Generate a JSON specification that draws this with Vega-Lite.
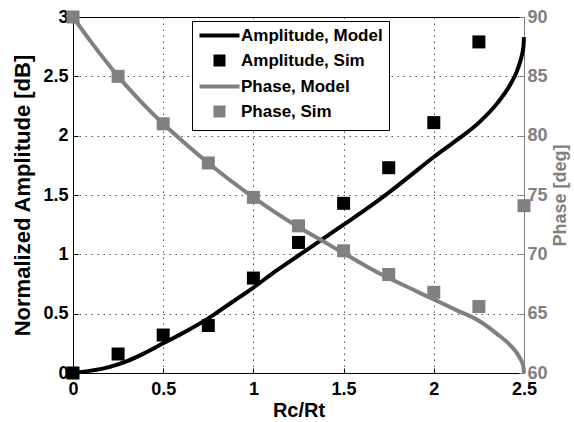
{
  "$schema": "https://vega.github.io/schema/vega-lite/v6.json",
  "width": 451,
  "height": 356,
  "autosize": "none",
  "padding": {"left": 73, "top": 17, "right": 50, "bottom": 49},
  "background": "white",
  "config": {
    "view": {"stroke": null},
    "font": "Liberation Sans",
    "axis": {
      "labelFont": "Liberation Sans",
      "labelFontWeight": "bold",
      "labelFontSize": 18,
      "titleFont": "Liberation Sans",
      "titleFontWeight": "bold",
      "labelFlush": false,
      "labelOverlap": false,
      "gridDash": [1.5, 4.5],
      "gridColor": "#555555",
      "gridWidth": 1,
      "gridOpacity": 1,
      "tickSize": -5,
      "domainWidth": 1
    },
    "legend": {
      "orient": "none",
      "legendX": 119,
      "legendY": 4,
      "padding": 6,
      "strokeColor": "black",
      "fillColor": "white",
      "labelFont": "Liberation Sans",
      "labelFontWeight": "bold",
      "labelFontSize": 17,
      "labelColor": "black",
      "symbolSize": 64,
      "symbolStrokeWidth": 4,
      "symbolOffset": 13,
      "labelOffset": 13,
      "rowPadding": 4,
      "cornerRadius": 0,
      "strokeWidth": 1
    }
  },
  "datasets": {
    "ampModel": [
      {"x": 0, "y": 0, "series": "Amplitude, Model"},
      {"x": 0.1, "y": 0.02, "series": "Amplitude, Model"},
      {"x": 0.2, "y": 0.05, "series": "Amplitude, Model"},
      {"x": 0.3, "y": 0.1, "series": "Amplitude, Model"},
      {"x": 0.4, "y": 0.17, "series": "Amplitude, Model"},
      {"x": 0.5, "y": 0.25, "series": "Amplitude, Model"},
      {"x": 0.625, "y": 0.35, "series": "Amplitude, Model"},
      {"x": 0.75, "y": 0.46, "series": "Amplitude, Model"},
      {"x": 0.875, "y": 0.59, "series": "Amplitude, Model"},
      {"x": 1.0, "y": 0.72, "series": "Amplitude, Model"},
      {"x": 1.125, "y": 0.86, "series": "Amplitude, Model"},
      {"x": 1.25, "y": 0.99, "series": "Amplitude, Model"},
      {"x": 1.375, "y": 1.12, "series": "Amplitude, Model"},
      {"x": 1.5, "y": 1.25, "series": "Amplitude, Model"},
      {"x": 1.625, "y": 1.38, "series": "Amplitude, Model"},
      {"x": 1.75, "y": 1.52, "series": "Amplitude, Model"},
      {"x": 1.875, "y": 1.67, "series": "Amplitude, Model"},
      {"x": 2.0, "y": 1.82, "series": "Amplitude, Model"},
      {"x": 2.125, "y": 1.96, "series": "Amplitude, Model"},
      {"x": 2.25, "y": 2.11, "series": "Amplitude, Model"},
      {"x": 2.35, "y": 2.27, "series": "Amplitude, Model"},
      {"x": 2.42, "y": 2.42, "series": "Amplitude, Model"},
      {"x": 2.46, "y": 2.54, "series": "Amplitude, Model"},
      {"x": 2.48, "y": 2.63, "series": "Amplitude, Model"},
      {"x": 2.49, "y": 2.69, "series": "Amplitude, Model"},
      {"x": 2.497, "y": 2.75, "series": "Amplitude, Model"},
      {"x": 2.5, "y": 2.83, "series": "Amplitude, Model"}
    ],
    "ampSim": [
      {"x": 0, "y": 0, "series": "Amplitude, Sim"},
      {"x": 0.25, "y": 0.16, "series": "Amplitude, Sim"},
      {"x": 0.5, "y": 0.32, "series": "Amplitude, Sim"},
      {"x": 0.75, "y": 0.4, "series": "Amplitude, Sim"},
      {"x": 1.0, "y": 0.8, "series": "Amplitude, Sim"},
      {"x": 1.25, "y": 1.1, "series": "Amplitude, Sim"},
      {"x": 1.5, "y": 1.43, "series": "Amplitude, Sim"},
      {"x": 1.75, "y": 1.73, "series": "Amplitude, Sim"},
      {"x": 2.0, "y": 2.11, "series": "Amplitude, Sim"},
      {"x": 2.25, "y": 2.79, "series": "Amplitude, Sim"}
    ],
    "phModel": [
      {"x": 0, "y": 90, "series": "Phase, Model"},
      {"x": 0.1, "y": 87.9, "series": "Phase, Model"},
      {"x": 0.25, "y": 85.0, "series": "Phase, Model"},
      {"x": 0.375, "y": 82.9, "series": "Phase, Model"},
      {"x": 0.5, "y": 81.0, "series": "Phase, Model"},
      {"x": 0.625, "y": 79.3, "series": "Phase, Model"},
      {"x": 0.75, "y": 77.7, "series": "Phase, Model"},
      {"x": 0.875, "y": 76.2, "series": "Phase, Model"},
      {"x": 1.0, "y": 74.8, "series": "Phase, Model"},
      {"x": 1.125, "y": 73.5, "series": "Phase, Model"},
      {"x": 1.25, "y": 72.3, "series": "Phase, Model"},
      {"x": 1.375, "y": 71.2, "series": "Phase, Model"},
      {"x": 1.5, "y": 70.1, "series": "Phase, Model"},
      {"x": 1.625, "y": 69.0, "series": "Phase, Model"},
      {"x": 1.75, "y": 68.0, "series": "Phase, Model"},
      {"x": 1.875, "y": 67.1, "series": "Phase, Model"},
      {"x": 2.0, "y": 66.2, "series": "Phase, Model"},
      {"x": 2.125, "y": 65.3, "series": "Phase, Model"},
      {"x": 2.25, "y": 64.4, "series": "Phase, Model"},
      {"x": 2.35, "y": 63.3, "series": "Phase, Model"},
      {"x": 2.42, "y": 62.4, "series": "Phase, Model"},
      {"x": 2.46, "y": 61.7, "series": "Phase, Model"},
      {"x": 2.48, "y": 61.2, "series": "Phase, Model"},
      {"x": 2.49, "y": 60.88, "series": "Phase, Model"},
      {"x": 2.497, "y": 60.48, "series": "Phase, Model"},
      {"x": 2.5, "y": 60.0, "series": "Phase, Model"}
    ],
    "phSim": [
      {"x": 0, "y": 90, "series": "Phase, Sim"},
      {"x": 0.25, "y": 85.0, "series": "Phase, Sim"},
      {"x": 0.5, "y": 81.0, "series": "Phase, Sim"},
      {"x": 0.75, "y": 77.7, "series": "Phase, Sim"},
      {"x": 1.0, "y": 74.8, "series": "Phase, Sim"},
      {"x": 1.25, "y": 72.4, "series": "Phase, Sim"},
      {"x": 1.5, "y": 70.3, "series": "Phase, Sim"},
      {"x": 1.75, "y": 68.3, "series": "Phase, Sim"},
      {"x": 2.0, "y": 66.8, "series": "Phase, Sim"},
      {"x": 2.25, "y": 65.6, "series": "Phase, Sim"},
      {"x": 2.5, "y": 74.1, "series": "Phase, Sim"}
    ]
  },
  "resolve": {"scale": {"y": "independent"}, "axis": {"x": "independent"}},
  "layer": [
    {
      "data": {"name": "ampModel"},
      "mark": {"type": "line", "strokeWidth": 4, "interpolate": "monotone"},
      "encoding": {
        "x": {
          "field": "x", "type": "quantitative",
          "scale": {"domain": [0, 2.5], "nice": false, "zero": false},
          "axis": {
            "orient": "bottom", "title": "Rc/Rt", "titleFontSize": 20, "titlePadding": 2,
            "values": [0, 0.5, 1, 1.5, 2, 2.5], "labelExpr": "'' + datum.value",
            "labelPadding": 12, "labelColor": "black", "domainColor": "black", "tickColor": "black", "titleColor": "black", "grid": true
          }
        },
        "y": {
          "field": "y", "type": "quantitative",
          "scale": {"domain": [0, 3], "nice": false, "zero": false},
          "axis": {
            "orient": "left", "title": "Normalized Amplitude [dB]", "titleFontSize": 22, "titlePadding": 8,
            "values": [0, 0.5, 1, 1.5, 2, 2.5, 3], "labelExpr": "'' + datum.value",
            "labelPadding": 10, "labelColor": "black", "domainColor": "black", "tickColor": "black", "titleColor": "black", "grid": true
          }
        },
        "color": {
          "field": "series", "type": "nominal",
          "scale": {
            "domain": ["Amplitude, Model", "Amplitude, Sim", "Phase, Model", "Phase, Sim"],
            "range": ["#000000", "#000000", "#808080", "#808080"]
          },
          "legend": {
            "title": null,
            "encode": {
              "symbols": {
                "update": {
                  "fill": {"scale": "color", "field": "value"},
                  "stroke": {"scale": "color", "field": "value"},
                  "strokeWidth": {"value": 4},
                  "size": {"value": 64},
                  "opacity": {"value": 1}
                }
              }
            }
          }
        }
      }
    },
    {
      "data": {"name": "ampSim"},
      "mark": {"type": "point", "filled": true, "opacity": 1, "size": 169, "strokeWidth": 0},
      "encoding": {
        "x": {"field": "x", "type": "quantitative", "axis": null},
        "y": {"field": "y", "type": "quantitative", "scale": {"domain": [0, 3], "nice": false, "zero": false}, "axis": null},
        "color": {"field": "series", "type": "nominal"},
        "shape": {
          "field": "series", "type": "nominal",
          "scale": {
            "domain": ["Amplitude, Model", "Amplitude, Sim", "Phase, Model", "Phase, Sim"],
            "range": ["M-5,0H5", "square", "M-5,0H5", "square"]
          },
          "legend": {"title": null}
        }
      }
    },
    {
      "data": {"name": "phModel"},
      "mark": {"type": "line", "strokeWidth": 4, "interpolate": "monotone"},
      "encoding": {
        "x": {
          "field": "x", "type": "quantitative",
          "axis": {"orient": "top", "title": null, "labels": false, "ticks": false, "grid": false, "domainColor": "black"}
        },
        "y": {
          "field": "y", "type": "quantitative",
          "scale": {"domain": [60, 90], "nice": false, "zero": false},
          "axis": {
            "orient": "right", "title": "Phase [deg]", "titleFontSize": 18, "titlePadding": 4,
            "titleAngle": 270, "titleBaseline": "top",
            "values": [60, 65, 70, 75, 80, 85, 90], "format": "d",
            "labelPadding": 8, "labelColor": "#808080", "domainColor": "#808080", "tickColor": "#808080", "titleColor": "#808080", "grid": false
          }
        },
        "color": {"field": "series", "type": "nominal"}
      }
    },
    {
      "data": {"name": "phSim"},
      "mark": {"type": "point", "filled": true, "opacity": 1, "size": 169, "strokeWidth": 0},
      "encoding": {
        "x": {"field": "x", "type": "quantitative", "axis": null},
        "y": {"field": "y", "type": "quantitative", "scale": {"domain": [60, 90], "nice": false, "zero": false}, "axis": null},
        "color": {"field": "series", "type": "nominal"},
        "shape": {"field": "series", "type": "nominal"}
      }
    }
  ]
}
